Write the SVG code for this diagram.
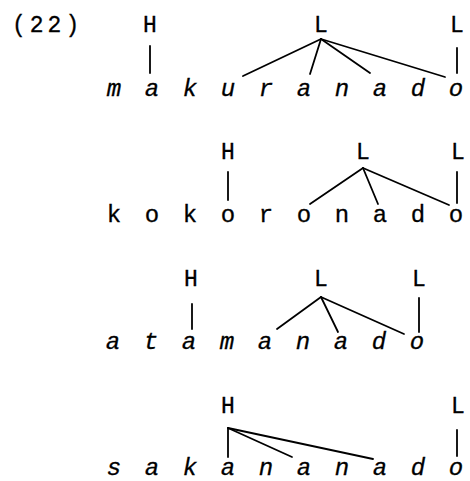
<svg xmlns="http://www.w3.org/2000/svg" width="470" height="481" viewBox="0 0 470 481">
<style>
.t{font-family:"Liberation Mono","DejaVu Sans Mono",monospace;font-size:23px;fill:#000;text-anchor:middle;stroke:#000;stroke-width:0.3}
.w{font-family:"Liberation Mono","DejaVu Sans Mono",monospace;font-size:24px;fill:#000;text-anchor:middle;stroke:#000;stroke-width:0.3}
.i{font-style:italic}
.cap{font-family:"Liberation Mono","DejaVu Sans Mono",monospace;font-size:23px;fill:#000;letter-spacing:4px;stroke:#000;stroke-width:0.3}
#connectors line{stroke:#000;stroke-width:1.8;stroke-linecap:round}
</style>
<rect width="470" height="481" fill="#fff"/>
<g id="label"><text class="cap" x="12" y="32">(22)</text></g>

<g id="row1">
<g id="r1-H"><text class="t" x="150" y="32">H</text></g>
<g id="r1-L1"><text class="t" x="321" y="32">L</text></g>
<g id="r1-L2"><text class="t" x="457" y="32">L</text></g>
<g id="r1-word"><text class="w i" x="114 152 190 228 266 304 342 380 418 456" y="96">makuranado</text></g>
</g>

<g id="row2">
<g id="r2-H"><text class="t" x="228" y="159">H</text></g>
<g id="r2-L1"><text class="t" x="363" y="159">L</text></g>
<g id="r2-L2"><text class="t" x="458" y="159">L</text></g>
<g id="r2-word"><text class="w" x="114 152 190 228 266 304 342 380 418 456" y="222">kokoronado</text></g>
</g>

<g id="row3">
<g id="r3-H"><text class="t" x="191" y="286">H</text></g>
<g id="r3-L1"><text class="t" x="321" y="286">L</text></g>
<g id="r3-L2"><text class="t" x="419" y="286">L</text></g>
<g id="r3-word"><text class="w i" x="113 151 189 227 265 303 341 379 417" y="349">atamanado</text></g>
</g>

<g id="row4">
<g id="r4-H"><text class="t" x="228" y="413">H</text></g>
<g id="r4-L"><text class="t" x="458" y="413">L</text></g>
<g id="r4-word"><text class="w i" x="114 152 190 228 266 304 342 380 418 456" y="475">sakananado</text></g>
</g>

<g id="connectors">
<line x1="150" y1="46" x2="150" y2="73"/>
<line x1="321" y1="39" x2="243" y2="76"/>
<line x1="321" y1="39" x2="310" y2="74"/>
<line x1="321" y1="39" x2="370" y2="73"/>
<line x1="321" y1="39" x2="445" y2="77"/>
<line x1="457" y1="48" x2="457" y2="73"/>

<line x1="228" y1="172" x2="228" y2="200"/>
<line x1="363" y1="168" x2="310" y2="204"/>
<line x1="363" y1="168" x2="378" y2="204"/>
<line x1="363" y1="168" x2="449" y2="205"/>
<line x1="457" y1="172" x2="457" y2="203"/>

<line x1="192" y1="304" x2="192" y2="329"/>
<line x1="321" y1="297" x2="277" y2="329"/>
<line x1="321" y1="297" x2="338" y2="332"/>
<line x1="321" y1="297" x2="404" y2="334"/>
<line x1="419" y1="298" x2="419" y2="332"/>

<line x1="228" y1="428" x2="228" y2="457"/>
<line x1="228" y1="428" x2="292" y2="457"/>
<line x1="228" y1="428" x2="373" y2="459"/>
<line x1="457" y1="430" x2="457" y2="456"/>
</g>
</svg>
